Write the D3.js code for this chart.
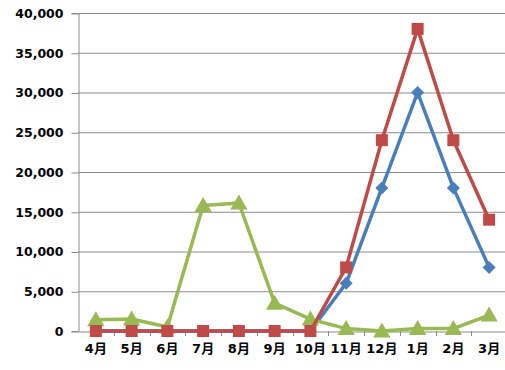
<!DOCTYPE html>
<html>
<head>
<meta charset="utf-8">
<script src="https://cdn.jsdelivr.net/npm/d3@7"></script>
<style>
  body { margin: 0; background: #fff; }
  svg text { font-family: "DejaVu Sans", "Noto Sans CJK JP", sans-serif; font-weight: bold; fill: #000; }
</style>
</head>
<body>
<svg id="chart" width="505" height="370"></svg>
<script>
// Monthly values (fiscal year, April to March)
const months = ["4月","5月","6月","7月","8月","9月","10月","11月","12月","1月","2月","3月"];
const seriesBlue  = [0, 0, 0, 0, 0, 0, 0, 6000, 18000, 30000, 18000, 8000];
const seriesRed   = [0, 0, 0, 0, 0, 0, 0, 8000, 24000, 38000, 24000, 14000];
const seriesGreen = [1400, 1500, 500, 15800, 16100, 3500, 1500, 300, 0, 300, 300, 2000];
const yTicks = [0, 5000, 10000, 15000, 20000, 25000, 30000, 35000, 40000];

const svg = d3.select("#chart");
const plotLeft = 78, plotRight = 507, plotTop = 13, plotBottom = 331;

const x = d3.scaleBand().domain(months).range([plotLeft, plotRight]);
const y = d3.scaleLinear().domain([0, 40000]).range([plotBottom, plotTop]);
const cx = m => x(m) + x.bandwidth() / 2;

// horizontal gridlines
svg.append("g").selectAll("line").data(yTicks.filter(d => d > 0)).join("line")
  .attr("x1", plotLeft).attr("x2", plotRight)
  .attr("y1", d => y(d) + 0.5).attr("y2", d => y(d) + 0.5)
  .attr("stroke", "#8c8c8c").attr("stroke-width", 1);

// y axis
const yAxis = svg.append("g").attr("transform", `translate(${plotLeft + 0.5},0)`)
  .call(d3.axisLeft(y).tickValues(yTicks).tickFormat(d3.format(",")).tickSize(7).tickPadding(8));
yAxis.select(".domain").attr("stroke", "#8c8c8c");
yAxis.selectAll(".tick line").attr("stroke", "#8c8c8c").attr("transform", "translate(0,0.5)");
yAxis.selectAll("text").style("font-size", "12.5px").attr("dy", "0.35em");

// x axis
const xAxis = svg.append("g").attr("transform", `translate(0,${plotBottom + 0.5})`)
  .call(d3.axisBottom(x).tickSize(0).tickPadding(14));
xAxis.select(".domain").attr("stroke", "#8c8c8c");
xAxis.selectAll("text").style("font-size", "13px").attr("dy", "0.6em");
// tick marks at category boundaries
svg.append("g").selectAll("line").data(months).join("line")
  .attr("x1", d => Math.round(x(d) + x.bandwidth()) + 0.5)
  .attr("x2", d => Math.round(x(d) + x.bandwidth()) + 0.5)
  .attr("y1", plotBottom).attr("y2", plotBottom + 5)
  .attr("stroke", "#8c8c8c");

const line = d3.line().x((d, i) => cx(months[i])).y(d => y(d));

function drawSeries(values, color, symbolType, size, rotate, dy) {
  svg.append("path").datum(values)
    .attr("fill", "none").attr("stroke", color).attr("stroke-width", 3.5)
    .attr("stroke-linejoin", "round").attr("d", line);
  svg.append("g").selectAll("path").data(values).join("path")
    .attr("transform", (d, i) => `translate(${cx(months[i])},${y(d) + dy}) rotate(${rotate})`)
    .attr("d", d3.symbol().type(symbolType).size(size))
    .attr("fill", color);
}

drawSeries(seriesBlue, "#4a7ebb", d3.symbolSquare, 84, 45, 0);
drawSeries(seriesGreen, "#98b954", d3.symbolTriangle, 130, 0, 1.5);
drawSeries(seriesRed, "#be4b48", d3.symbolSquare, 144, 0, 0);
</script>
</body>
</html>
